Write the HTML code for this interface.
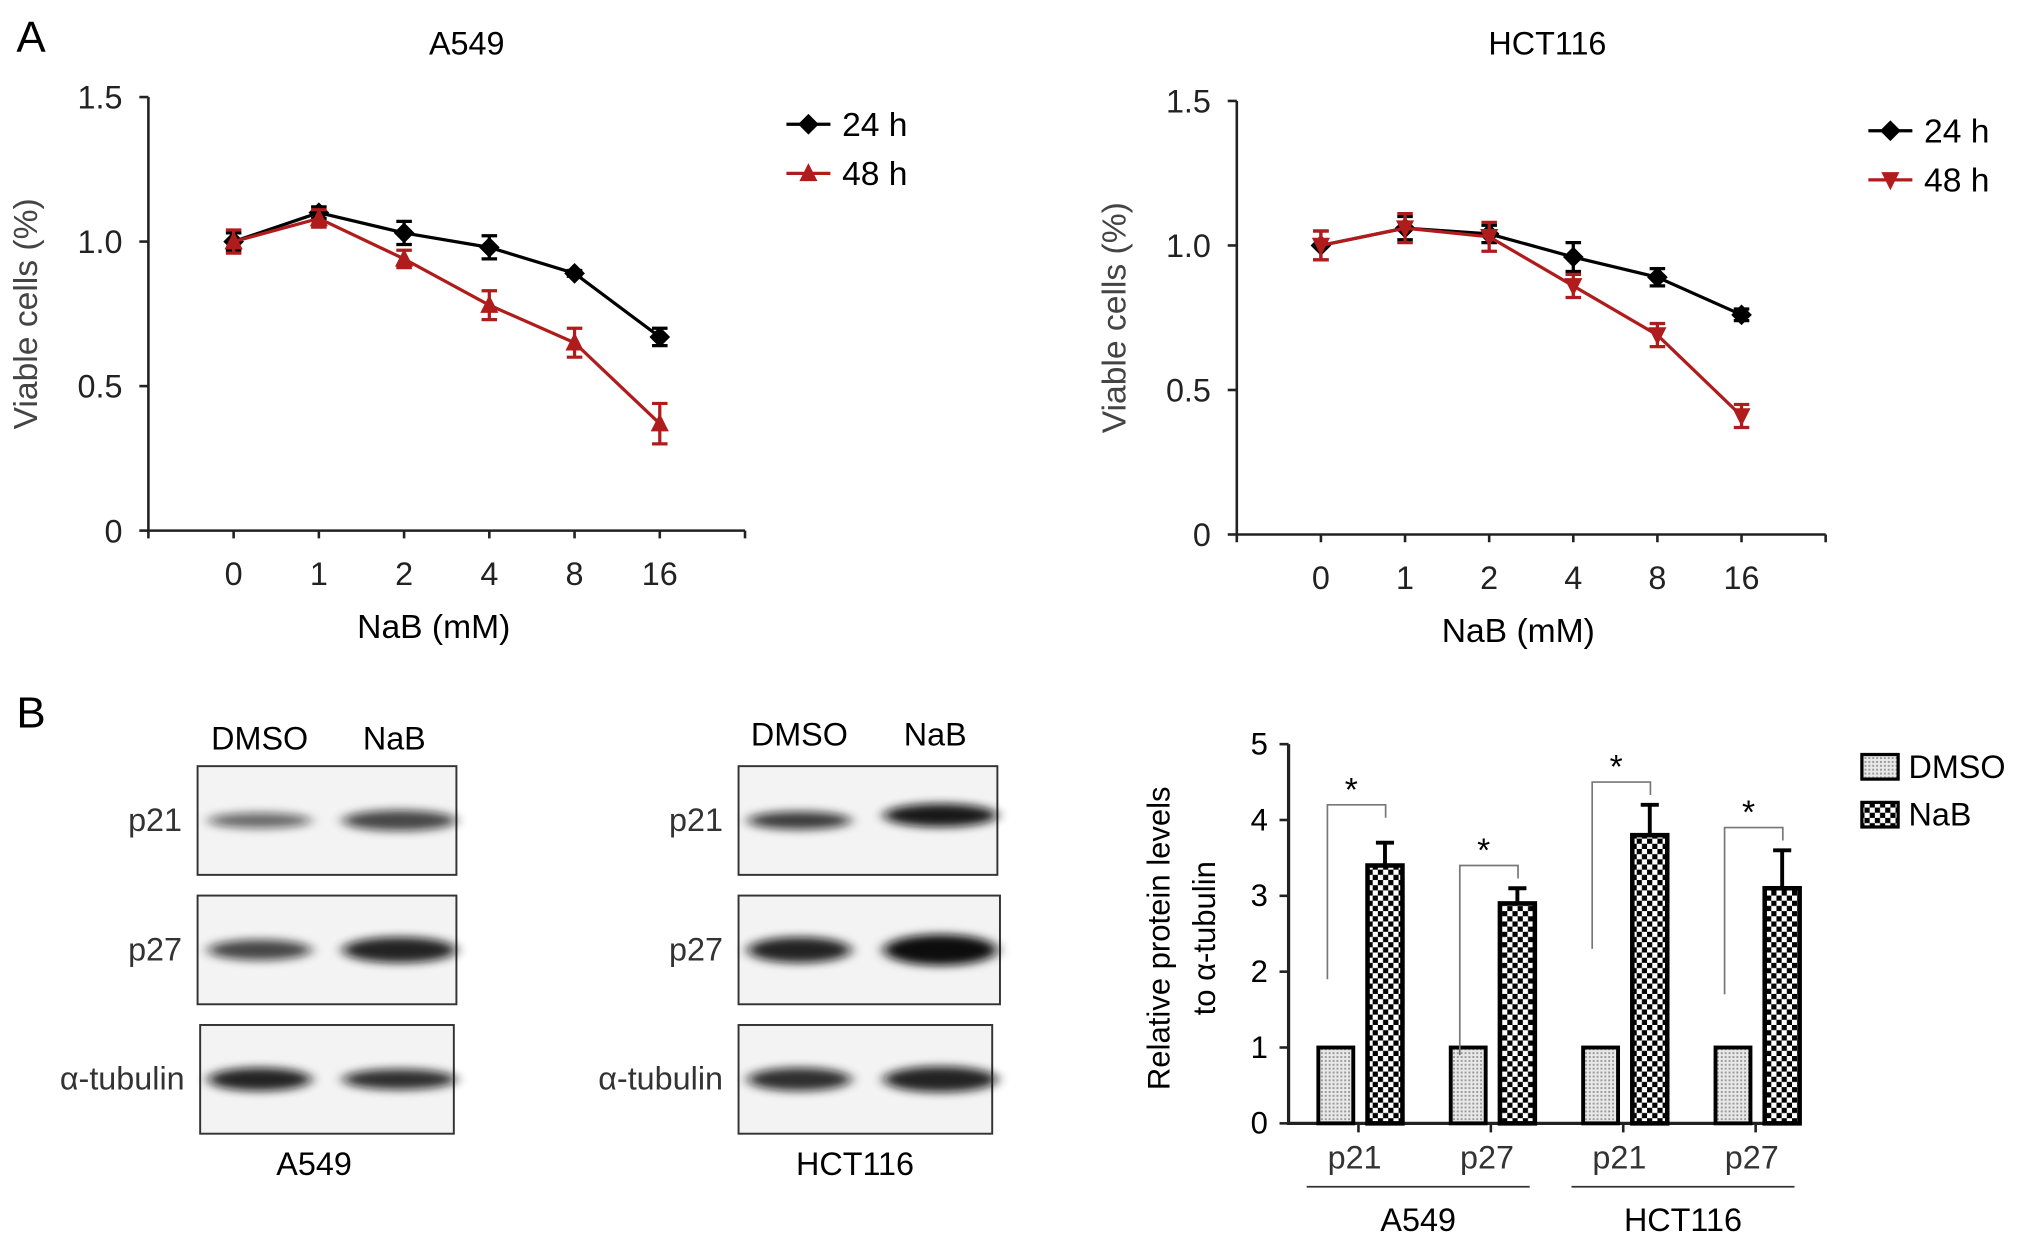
<!DOCTYPE html>
<html><head><meta charset="utf-8"><style>
html,body{margin:0;padding:0;background:#fff;}
svg{display:block;font-family:"Liberation Sans",Arial,sans-serif;}
</style></head><body>
<svg id="fig" width="2031" height="1245" viewBox="0 0 1568 962" xmlns="http://www.w3.org/2000/svg">
<defs>
<pattern id="dots" width="3" height="3" patternUnits="userSpaceOnUse"><rect width="3" height="3" fill="#e8e8e8"/><rect width="1.5" height="1.5" fill="#9a9a9a"/></pattern>
<pattern id="check" width="8" height="8" patternUnits="userSpaceOnUse"><rect width="8" height="8" fill="#fff"/><rect width="4" height="4" fill="#000"/><rect x="4" y="4" width="4" height="4" fill="#000"/></pattern>
<filter id="blur" x="-20%" y="-100%" width="140%" height="300%"><feGaussianBlur stdDeviation="5 3.5"/></filter>
</defs>
<text x="12" y="40" font-size="34">A</text>
<text x="12" y="562" font-size="34">B</text>
<g id="lineA"></g><g id="lineB"></g>
<g id="blots"></g>
<g id="bars"></g>
</svg>
<script>
const NS="http://www.w3.org/2000/svg";
const svg=document.getElementById('fig');
function mk(parent,tag,attrs,txt){const e=document.createElementNS(NS,tag);for(const k in attrs)e.setAttribute(k,attrs[k]);if(txt!==undefined)e.textContent=txt;parent.appendChild(e);return e;}

// ---- Line chart data ----
const doseLabels=["0","1","2","4","8","16"];
const yTicksLine=[0,0.5,1.0,1.5];
const yTickLabelsLine=["0","0.5","1.0","1.5"];
const a549_24=[1.0,1.10,1.03,0.98,0.89,0.67];
const a549_24err=[0.03,0.02,0.04,0.04,0.01,0.03];
const a549_48=[1.0,1.08,0.94,0.78,0.65,0.37];
const a549_48err=[0.04,0.03,0.03,0.05,0.05,0.07];
const hct_24=[1.0,1.06,1.04,0.96,0.89,0.76];
const hct_24err=[0.05,0.04,0.03,0.05,0.03,0.02];
const hct_48=[1.0,1.06,1.03,0.86,0.69,0.41];
const hct_48err=[0.05,0.05,0.05,0.04,0.04,0.04];

function lineChart(g,cfg){
  const gg=document.getElementById(g);
  const y=v=>cfg.y0-(v/1.5)*(cfg.y0-cfg.y15);
  const step=(cfg.x1-cfg.x0)/7;
  const x=i=>cfg.x0+step*(i+1);
  let t=mk(gg,'text',{x:cfg.tx,y:42,'font-size':25,'text-anchor':'middle'},cfg.title);
  
  let ax=mk(gg,'path',{d:`M${cfg.x0},${cfg.y15} V${cfg.y0} H${cfg.x1}`,stroke:'#222','stroke-width':2,fill:'none'});
  
  yTicksLine.forEach((v,i)=>{
    mk(gg,'line',{x1:cfg.x0-7,x2:cfg.x0,y1:y(v),y2:y(v),stroke:'#222','stroke-width':2});
    const l=mk(gg,'text',{x:cfg.x0-20,y:y(v)+9,'font-size':25,'text-anchor':'end',fill:'#222'},yTickLabelsLine[i]);
    
  });
  for(let i=0;i<=7;i++){mk(gg,'line',{x1:cfg.x0+step*i,x2:cfg.x0+step*i,y1:cfg.y0,y2:cfg.y0+6,stroke:'#222','stroke-width':2});}
  doseLabels.forEach((d,i)=>{const l=mk(gg,'text',{x:x(i),y:cfg.y0+42,'font-size':25,'text-anchor':'middle',fill:'#222'},d);
    });
  let xt=mk(gg,'text',{x:(cfg.x0+cfg.x1)/2-10,y:cfg.y0+83,'font-size':26,'text-anchor':'middle'},'NaB (mM)');
  
  let yt=mk(gg,'text',{x:0,y:0,'font-size':26,'text-anchor':'middle',fill:'#444',transform:`translate(${cfg.x0-86},${(cfg.y0+cfg.y15)/2}) rotate(-90)`},'Viable cells (%)');
  
  const series=[{v:cfg.s24,e:cfg.e24,c:'#000',m:'diamond',n:'24 h'},{v:cfg.s48,e:cfg.e48,c:'#b01c1c',m:cfg.m48,n:'48 h'}];
  function marker(p,type,cx,cy,c){
    let d;
    if(type==='diamond')d=`M${cx},${cy-8} L${cx+8},${cy} L${cx},${cy+8} L${cx-8},${cy}Z`;
    else if(type==='up')d=`M${cx},${cy-8} L${cx+7},${cy+6} L${cx-7},${cy+6}Z`;
    else d=`M${cx},${cy+8} L${cx+7},${cy-6} L${cx-7},${cy-6}Z`;
    return mk(p,'path',{d,fill:c});
  }
  series.forEach((s,si)=>{
    const sg=mk(gg,'g',{});
    
    mk(sg,'polyline',{points:s.v.map((v,i)=>x(i)+','+y(v)).join(' '),fill:'none',stroke:s.c,'stroke-width':2.5});
    s.v.forEach((v,i)=>{
      mk(sg,'path',{d:`M${x(i)},${y(v+s.e[i])} V${y(v-s.e[i])} M${x(i)-6},${y(v+s.e[i])} H${x(i)+6} M${x(i)-6},${y(v-s.e[i])} H${x(i)+6}`,stroke:s.c,'stroke-width':2.5,fill:'none'});
      const m=marker(sg,s.m,x(i),y(v),s.c);
      
    });
    const ly=cfg.ly+si*38;
    const lg=mk(gg,'g',{});
    
    mk(lg,'line',{x1:cfg.lx,x2:cfg.lx+34,y1:ly,y2:ly,stroke:s.c,'stroke-width':2.5});
    marker(lg,s.m,cfg.lx+17,ly,s.c);
    mk(lg,'text',{x:cfg.lx+43,y:ly+9,'font-size':26},s.n);
  });
}
lineChart('lineA',{x0:114,x1:575,y0:410,y15:75,title:'A549',tx:360,s24:a549_24,e24:a549_24err,s48:a549_48,e48:a549_48err,m48:'up',lx:607,ly:96});
lineChart('lineB',{x0:955,x1:1410,y0:413,y15:78,title:'HCT116',tx:1195,s24:hct_24,e24:hct_24err,s48:hct_48,e48:hct_48err,m48:'down',lx:1443,ly:101});

// ---- Blots ----
const bg=document.getElementById('blots');
function blot(cfg){
  const g=mk(bg,'g',{});
  
  mk(g,'text',{x:cfg.c1,y:cfg.hy,'font-size':25,'text-anchor':'middle'},'DMSO');
  mk(g,'text',{x:cfg.c2,y:cfg.hy,'font-size':25,'text-anchor':'middle'},'NaB');
  cfg.rows.forEach(r=>{
    mk(g,'rect',{x:r.x,y:r.y,width:r.w,height:84,fill:'#f3f3f3',stroke:'#333','stroke-width':1.5});
    mk(g,'text',{x:r.x-12,y:r.y+50,'font-size':25,'text-anchor':'end',fill:'#333'},r.label);
    mk(g,'ellipse',{cx:cfg.c1,cy:r.y+42,rx:40,ry:r.b1,fill:'#111',opacity:r.o1,filter:'url(#blur)'});
    mk(g,'ellipse',{cx:cfg.c2+4,cy:r.y+42-(r.tilt||0),rx:44,ry:r.b2,fill:'#111',opacity:r.o2,filter:'url(#blur)'});
  });
  mk(g,'text',{x:cfg.lbx,y:908,'font-size':25,'text-anchor':'middle'},cfg.cell);
}
blot({name:'a549-blot',c1:200,c2:304,hy:579,cell:'A549',lbx:242,rows:[
 {x:152,y:592,w:200,label:'p21',b1:6,b2:8,o1:0.6,o2:0.75},
 {x:152,y:692,w:200,label:'p27',b1:8,b2:10,o1:0.75,o2:0.9},
 {x:154,y:792,w:196,label:'α-tubulin',b1:9,b2:8,o1:0.9,o2:0.85}]});
blot({name:'hct116-blot',c1:617,c2:722,hy:576,cell:'HCT116',lbx:660,rows:[
 {x:570,y:592,w:200,label:'p21',b1:7,b2:9,o1:0.8,o2:0.95,tilt:4},
 {x:570,y:692,w:202,label:'p27',b1:10,b2:12,o1:0.9,o2:1},
 {x:570,y:792,w:196,label:'α-tubulin',b1:9,b2:10,o1:0.85,o2:0.9}]});

// ---- Bar chart data ----
const barCats=["p21","p27","p21","p27"];
const dmsoVals=[1,1,1,1];
const nabVals=[3.4,2.9,3.8,3.1];
const nabErr=[0.3,0.2,0.4,0.5];
const bracketTop=[4.2,3.4,4.5,3.9];
const bracketLow=[1.9,0.9,2.3,1.7];
const yTicksBar=[0,1,2,3,4,5];
const cellGroups=["A549","HCT116"];

(function(){
  const g=document.getElementById('bars');
  const x0=995,x1=1390,y0=868,y5=575;
  const y=v=>y0-(v/5)*(y0-y5);
  const gw=102.3;
  const gc=i=>1049+gw*i;
  const bw=27;
  mk(g,'path',{d:`M${x0},${y5} V${y0} H${x1}`,stroke:'#222','stroke-width':2.5,fill:'none'});
  yTicksBar.forEach(v=>{
    mk(g,'line',{x1:x0-7,x2:x0,y1:y(v),y2:y(v),stroke:'#222','stroke-width':2});
    const l=mk(g,'text',{x:x0-16,y:y(v)+8,'font-size':24,'text-anchor':'end'},String(v));
    
  });
  const yt=mk(g,'text',{x:0,y:0,'font-size':24,'text-anchor':'middle',transform:`translate(903,725) rotate(-90)`},'Relative protein levels');
  
  mk(g,'text',{x:0,y:0,'font-size':24,'text-anchor':'middle',transform:`translate(938,725) rotate(-90)`},'to α-tubulin');
  barCats.forEach((c,i)=>{
    const cx=gc(i);
    mk(g,'line',{x1:cx,x2:cx,y1:y0,y2:y0+7,stroke:'#222','stroke-width':2});
    const l=mk(g,'text',{x:cx-3,y:y0+35,'font-size':25,'text-anchor':'middle',fill:'#333'},c);
    
    const dx=cx-31,nx=cx+7;
    const d=mk(g,'rect',{x:dx,y:y(dmsoVals[i]),width:bw,height:y0-y(dmsoVals[i]),fill:'url(#dots)',stroke:'#000','stroke-width':3});
    
    const n=mk(g,'rect',{x:nx,y:y(nabVals[i]),width:bw,height:y0-y(nabVals[i]),fill:'url(#check)',stroke:'#000','stroke-width':3.5});
    
    const ex=nx+bw/2;
    mk(g,'path',{d:`M${ex},${y(nabVals[i])} V${y(nabVals[i]+nabErr[i])} M${ex-7},${y(nabVals[i]+nabErr[i])} H${ex+7}`,stroke:'#000','stroke-width':3,fill:'none'});
    const bx1=dx+7,bx2=nx+14;
    mk(g,'path',{d:`M${bx1},${y(bracketLow[i])} V${y(bracketTop[i])} H${bx2} V${y(bracketTop[i])+10}`,stroke:'#777','stroke-width':1.3,fill:'none'});
    mk(g,'text',{x:(bx1+bx2)/2-4,y:y(bracketTop[i])-3,'font-size':26,'text-anchor':'middle'},'*');
  });
  cellGroups.forEach((c,k)=>{
    const a=gc(2*k)-40,b=gc(2*k+1)+30;
    mk(g,'line',{x1:a,x2:b,y1:917,y2:917,stroke:'#333','stroke-width':1.3});
    const l=mk(g,'text',{x:(a+b)/2,y:951,'font-size':25,'text-anchor':'middle'},c);
    
  });
  [['DMSO','url(#dots)',583],['NaB','url(#check)',620]].forEach(([t,f,yy])=>{
    const lg=mk(g,'g',{});
    
    mk(lg,'rect',{x:1438,y:yy,width:28,height:19,fill:f,stroke:'#000','stroke-width':2.5});
    mk(lg,'text',{x:1474,y:yy+18,'font-size':25},t);
  });
})();
</script>
</body></html>
